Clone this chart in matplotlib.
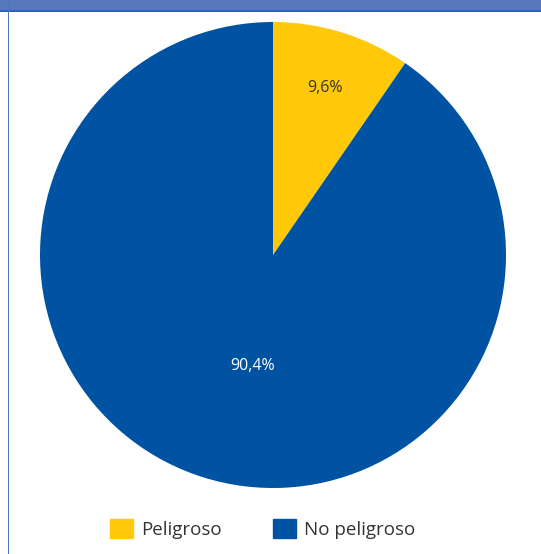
import matplotlib.pyplot as plt
import matplotlib.patches as mpatches
import numpy as np

plt.rcParams['font.family'] = ['Open Sans', 'DejaVu Sans']

# Data
categories = ['Peligroso', 'No peligroso']
values = [9.6, 90.4]
labels = ['9,6%', '90,4%']
colors = ['#FFC90A', '#0052A3']
label_colors = ['#333333', 'white']
label_dist = [0.75, 0.5]

fig = plt.figure(figsize=(5.41, 5.54), dpi=100)

# header band and left frame line (cropped panel look)
fig.patches.append(mpatches.Rectangle((0, 1 - 10 / 554), 1, 10 / 554, transform=fig.transFigure,
                                      facecolor='#5877BD', edgecolor='none', zorder=0))
fig.patches.append(mpatches.Rectangle((0, 1 - 12 / 554), 1, 2 / 554, transform=fig.transFigure,
                                      facecolor='#2F66B3', edgecolor='none', zorder=0))
fig.patches.append(mpatches.Rectangle((7.5 / 541, 0), 1.5 / 541, 1, transform=fig.transFigure,
                                      facecolor='#4A76BE', edgecolor='none', zorder=0))

# Pie
ax = fig.add_axes([40 / 541, 66 / 554, 466 / 541, 466 / 554])
wedges, _ = ax.pie(values, colors=colors, startangle=90, counterclock=False,
                   wedgeprops=dict(linewidth=0))
for w, lab, c, d in zip(wedges, labels, label_colors, label_dist):
    mid = np.deg2rad((w.theta1 + w.theta2) / 2)
    ax.text(d * np.cos(mid) + (0.06 if d < 0.6 else 0), d * np.sin(mid), lab,
            ha='center', va='center', color=c, fontsize=11.5)
ax.set_xlim(-1, 1)
ax.set_ylim(-1, 1)
ax.set_aspect('equal')

# Legend
handles = [mpatches.Patch(color=c, label=l) for c, l in zip(colors, categories)]
fig.legend(handles=handles, loc='center', bbox_to_anchor=(263 / 541, 25 / 554), ncol=2,
           frameon=False, fontsize=13.5, handlelength=1.2, handleheight=1.2,
           handletextpad=0.45, columnspacing=2.75, labelcolor='#333333')

plt.savefig('out.png', dpi=100)
